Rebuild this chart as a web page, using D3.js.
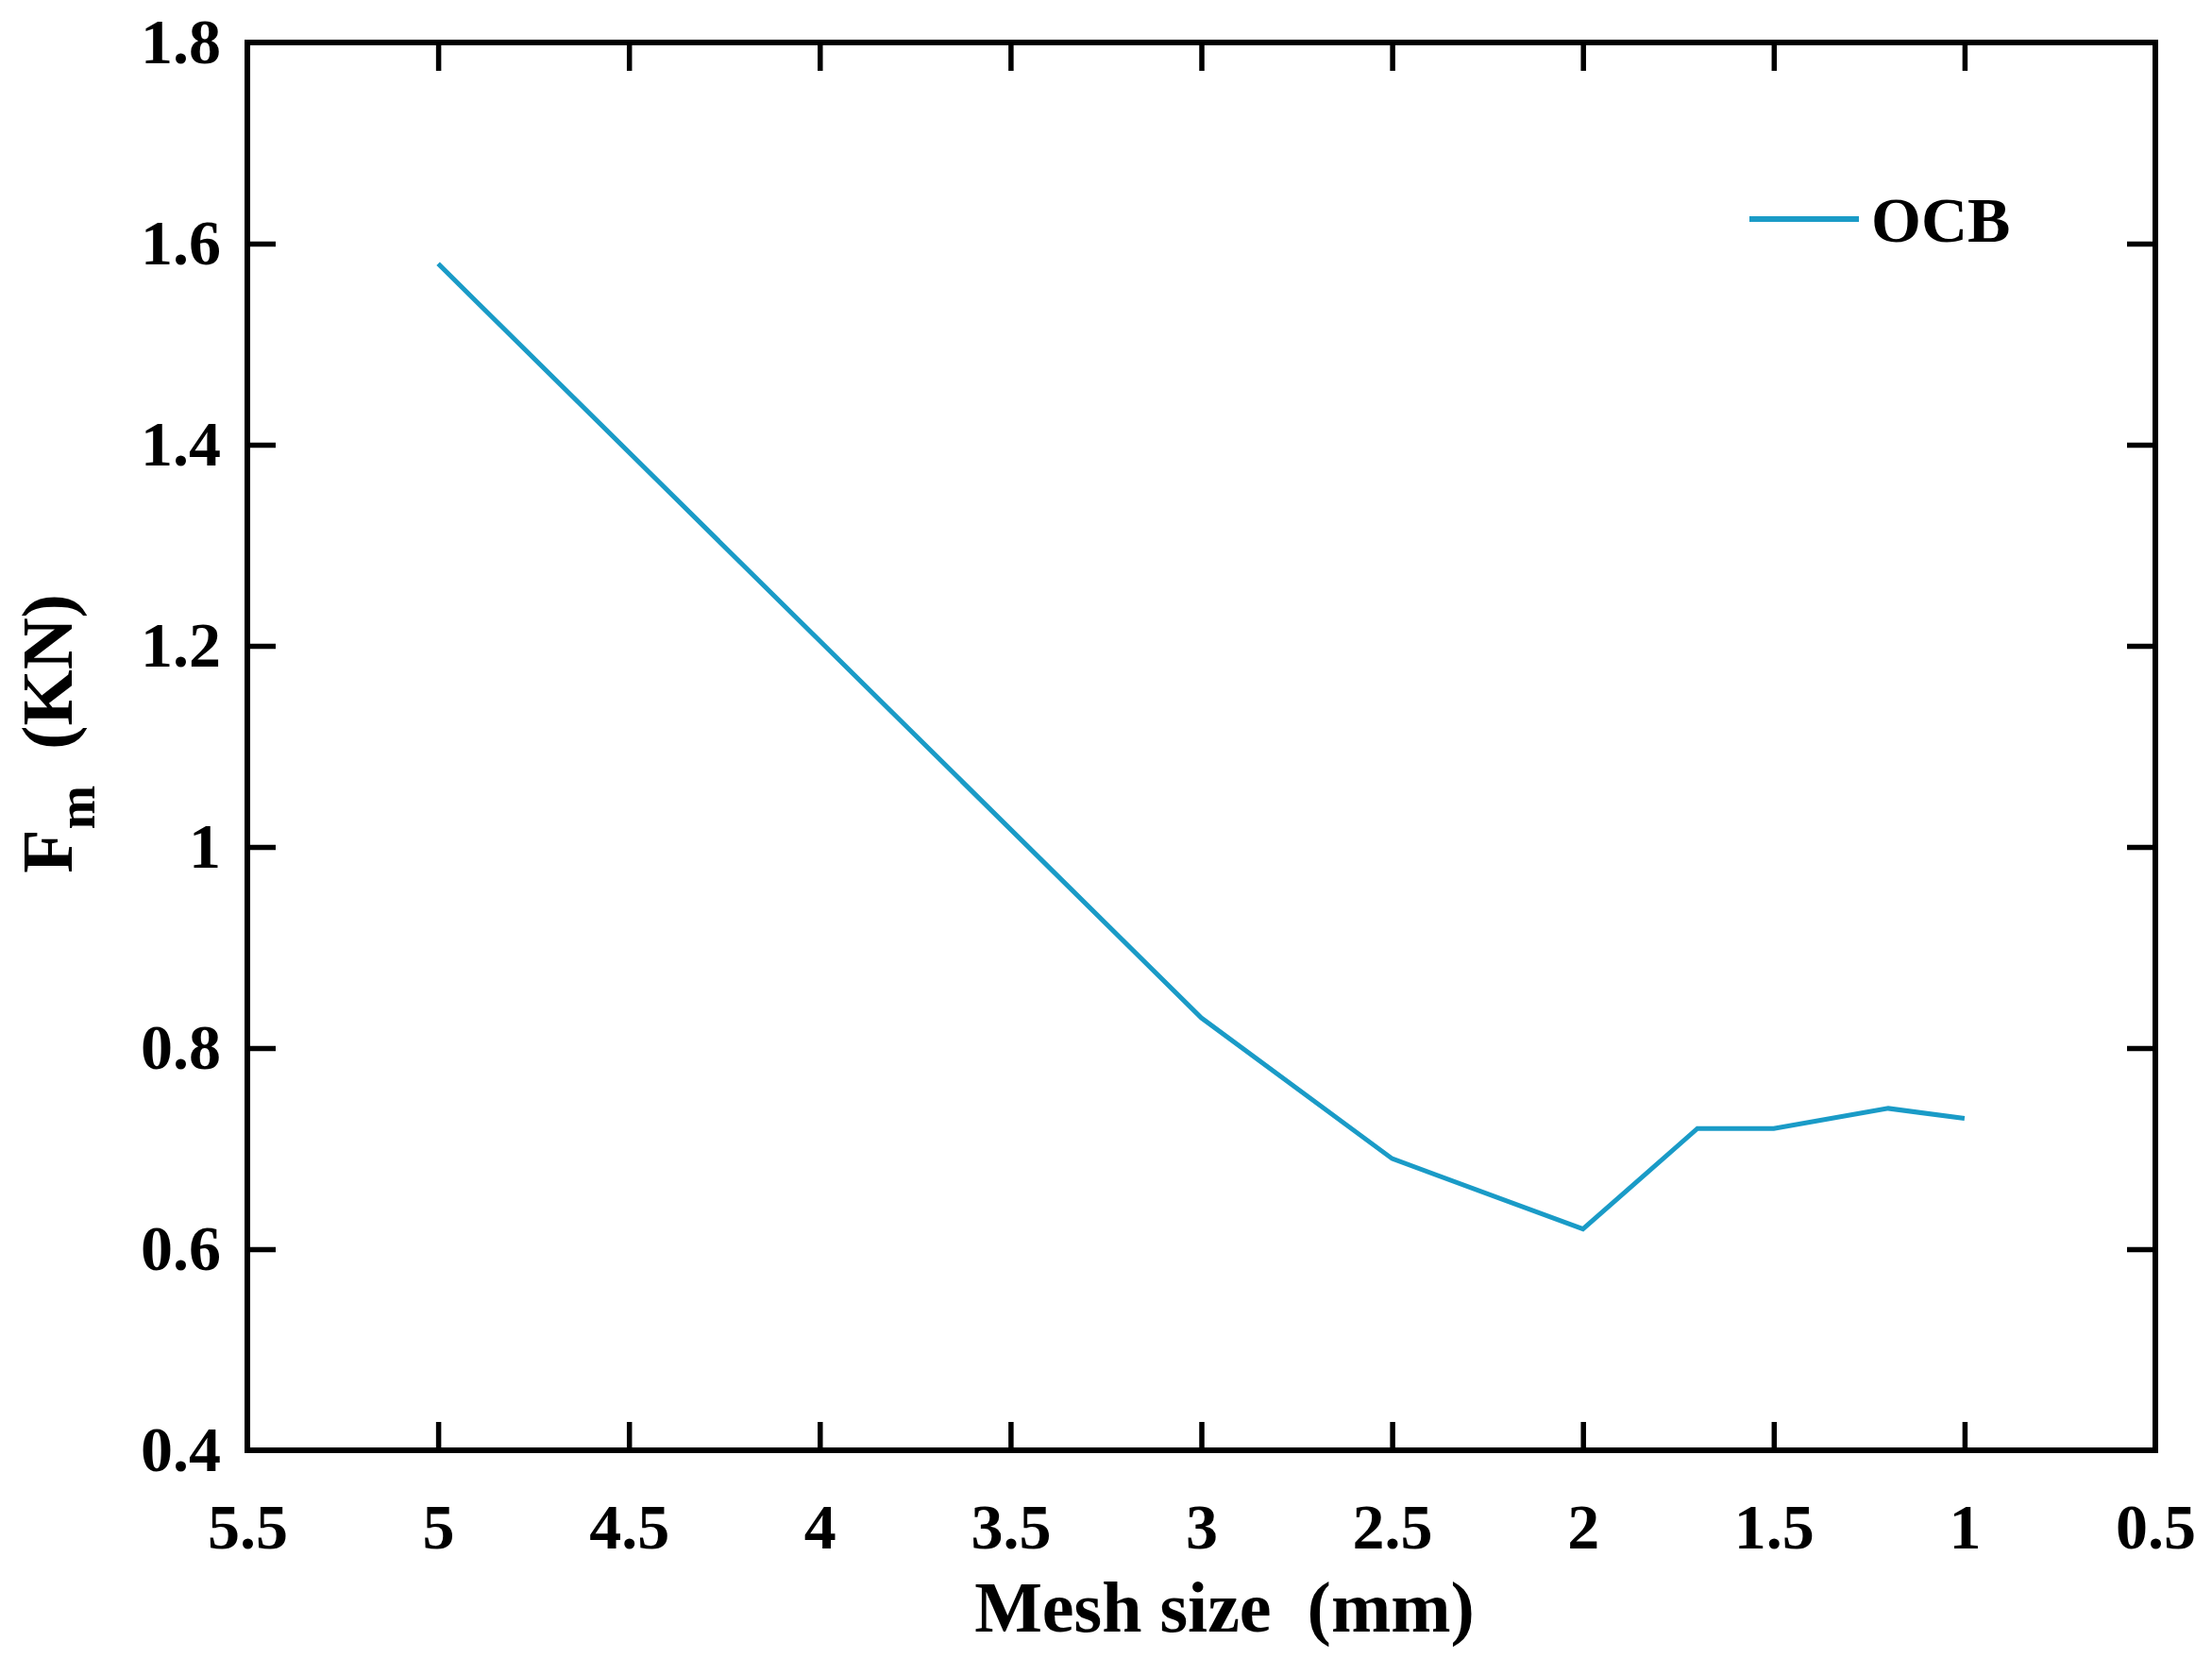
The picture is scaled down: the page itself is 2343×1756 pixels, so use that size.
<!DOCTYPE html>
<html>
<head>
<meta charset="utf-8">
<script src="https://cdn.jsdelivr.net/npm/d3@7"></script>
<style>
body { margin: 0; background: #fff; }
text { font-family: "Liberation Serif", "Times New Roman", serif; font-weight: bold; }
</style>
</head>
<body>
<script>
var meshSize = [5, 3, 2.5, 2, 1.7, 1.5, 1.2, 1];
var forceKN = [1.58, 0.83, 0.69, 0.62, 0.72, 0.72, 0.74, 0.73];
var xTicks = [5.5, 5, 4.5, 4, 3.5, 3, 2.5, 2, 1.5, 1, 0.5];
var yTicks = [0.4, 0.6, 0.8, 1, 1.2, 1.4, 1.6, 1.8];

var width = 2343, height = 1756;
var m = {left: 262, right: 2283, top: 45, bottom: 1536};

var svg = d3.select("body").append("svg").attr("width", width).attr("height", height);

// x axis runs backwards, 5.5 on the left
var x = d3.scaleLinear().domain([5.5, 0.5]).range([m.left, m.right]);
var y = d3.scaleLinear().domain([0.4, 1.8]).range([m.bottom, m.top]);

var tickLen = 30;
var fmt = function(d){ return String(d); };

function styleAxis(g){
  g.select(".domain").remove();
  g.selectAll(".tick line").attr("stroke", "#000").attr("stroke-width", 5.5);
  g.selectAll(".tick text").attr("font-size", 68).attr("fill", "#000");
}

svg.append("g").attr("transform", "translate(0," + m.bottom + ")")
  .call(d3.axisBottom(x).tickValues(xTicks).tickFormat(fmt).tickSizeInner(-tickLen).tickPadding(56))
  .call(styleAxis);
svg.append("g").attr("transform", "translate(0," + m.top + ")")
  .call(d3.axisTop(x).tickValues(xTicks).tickFormat("").tickSizeInner(-tickLen))
  .call(styleAxis);
svg.append("g").attr("transform", "translate(" + m.left + ",0)")
  .call(d3.axisLeft(y).tickValues(yTicks).tickFormat(fmt).tickSizeInner(-tickLen).tickPadding(28))
  .call(styleAxis);
svg.append("g").attr("transform", "translate(" + m.right + ",0)")
  .call(d3.axisRight(y).tickValues(yTicks).tickFormat("").tickSizeInner(-tickLen))
  .call(styleAxis);

// hide ticks at the corners
svg.selectAll(".tick").filter(function(d){ return d === 5.5 || d === 0.5 || d === 0.4 || d === 1.8; })
  .select("line").remove();

svg.append("rect").attr("x", m.left).attr("y", m.top)
  .attr("width", m.right - m.left).attr("height", m.bottom - m.top)
  .attr("fill", "none").attr("stroke", "#000").attr("stroke-width", 6);

var line = d3.line().x(function(d, i){ return x(meshSize[i]); }).y(function(d){ return y(d); });
svg.append("path").attr("d", line(forceKN))
  .attr("fill", "none").attr("stroke", "#1a9bc7").attr("stroke-width", 5);

// legend
svg.append("line").attr("x1", 1853).attr("x2", 1969).attr("y1", 232).attr("y2", 232)
  .attr("stroke", "#1a9bc7").attr("stroke-width", 6);
svg.append("text").attr("x", 1982).attr("y", 256).attr("font-size", 68).text("OCB");

// axis titles
svg.append("text").attr("x", 1297).attr("y", 1728).attr("text-anchor", "middle")
  .attr("font-size", 76).attr("xml:space", "preserve").text("Mesh size  (mm)");

var yl = svg.append("text").attr("transform", "translate(76,777) rotate(-90)")
  .attr("text-anchor", "middle").attr("font-size", 76);
yl.append("tspan").text("F");
yl.append("tspan").attr("font-size", 56).attr("dy", 24).text("m");
yl.append("tspan").attr("dy", -24).text("  (KN)").attr("xml:space", "preserve");
</script>
</body>
</html>
